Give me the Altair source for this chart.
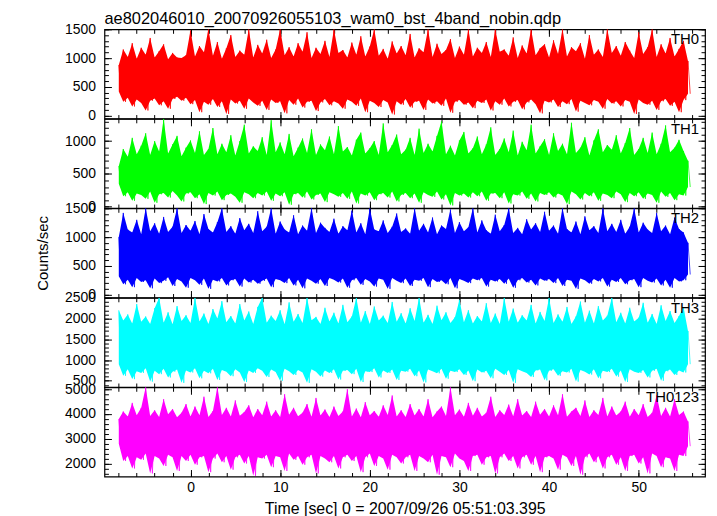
import altair as alt
import pandas as pd

TITLE = "ae802046010_20070926055103_wam0_bst_4band_nobin.qdp"
X_TITLE = "Time [sec] 0 = 2007/09/26 05:51:03.395"
Y_TITLE = "Counts/sec"

T_START = -8.0
T_END = 56.0
X_DOMAIN = [-9.6, 57.4]
X_MAJOR = [0, 10, 20, 30, 40, 50]
X_MINOR = list(range(-8, 57, 2))

NAMES = ["TH0", "TH1", "TH2", "TH3", "TH0123"]
COLORS = ["#ff0000", "#00ff00", "#0000ff", "#00ffff", "#ff00ff"]

Y_DOMAINS = [[-50, 1500], [-20, 1340], [-50, 1500], [350, 2500], [1475, 5080]]
Y_MAJOR = [[0, 500, 1000, 1500], [0, 500, 1000], [0, 500, 1000, 1500],
           [500, 1000, 1500, 2000, 2500], [2000, 3000, 4000, 5000]]
Y_MINOR = [list(range(0, 1501, 100)), list(range(0, 1301, 100)), list(range(0, 1501, 100)),
           list(range(400, 2501, 100)), list(range(1600, 5001, 200))]

th0_hi = [880, 1150, 1020, 1260, 990, 1180, 1060, 1350, 1010, 1120, 1240, 980, 1090, 1010, 1000, 1050,
          1480, 1030, 1210, 1100, 1500, 1040, 1280, 990, 1170, 1400, 1020, 1130, 1060, 1500, 1010, 1230,
          1080, 1320, 1000, 1150, 1500, 1050, 1190, 1030, 1260, 1110, 1450, 1000, 1180, 1070, 1300, 1020,
          1500, 1090, 1140, 1010, 1270, 1060, 1380, 1030, 1200, 1500, 1040, 1160, 990, 1290, 1080, 1210,
          1050, 1420, 1010, 1170, 1100, 1500, 1020, 1250, 1070, 1140, 1330, 1000, 1200, 1060, 1500, 1030,
          1180, 1090, 1280, 1020, 1500, 1110, 1150, 1040, 1360, 1000, 1220, 1080, 1500, 1050, 1170, 1240,
          1010, 1310, 1070, 1500, 1030, 1190, 1120, 1260, 990, 1400, 1060, 1150, 1020, 1500, 1090, 1210,
          1040, 1280, 1130, 1000, 1450, 1070, 1190, 1500, 1020, 1240, 1080, 1350, 1030, 1160, 1300, 950]
th0_lo = [420, 240, 310, 160, 280, 220, 90, 260, 300, 180, 250, 120, 290, 330, 260, 310,
          200, 270, 60, 240, 190, 290, 150, 250, 30, 280, 210, 260, 120, 300, 230, 170,
          260, 100, 280, 220, 250, 40, 270, 190, 300, 140, 240, 260, 80, 230, 290, 180,
          250, 210, 120, 280, 240, 170, 300, 60, 260, 220, 150, 270, 230, 20, 250, 190,
          290, 140, 240, 260, 100, 280, 210, 250, 170, 300, 50, 240, 270, 190, 230, 130,
          260, 220, 280, 90, 250, 190, 300, 160, 240, 270, 110, 230, 280, 200, 40, 260,
          230, 280, 150, 250, 200, 290, 70, 260, 220, 180, 270, 240, 120, 290, 210, 250,
          160, 270, 240, 30, 280, 220, 190, 260, 100, 250, 290, 170, 240, 60, 270, 380]

th1_hi = [620, 880, 760, 1050, 800, 930, 1120, 790, 1000, 840, 1340, 810, 950, 1080, 770, 900,
          1010, 820, 1150, 790, 880, 1200, 800, 960, 830, 1090, 780, 1000, 1250, 810, 920, 850,
          1060, 790, 1320, 830, 980, 800, 1110, 770, 900, 1040, 820, 1180, 790, 950, 860, 1070,
          800, 1230, 840, 910, 780, 1020, 1130, 810, 890, 1000, 790, 1270, 830, 940, 1100, 800,
          870, 1050, 790, 1190, 820, 960, 840, 1080, 1300, 800, 930, 780, 1010, 1140, 810, 890,
          1070, 800, 950, 1210, 790, 880, 1040, 830, 1160, 780, 990, 860, 1250, 810, 920, 1030,
          790, 1120, 850, 960, 800, 1280, 820, 900, 1060, 780, 1010, 1180, 830, 940, 870, 1090,
          810, 970, 1200, 790, 880, 1050, 820, 1130, 800, 960, 1240, 830, 900, 1020, 850, 700]
th1_lo = [350, 160, 220, 90, 200, 180, 120, 230, 60, 190, 210, 140, 240, 170, 80, 200,
          220, 130, 190, 40, 210, 170, 230, 100, 180, 200, 150, 60, 220, 190, 130, 210,
          170, 230, 90, 200, 160, 220, 30, 190, 210, 140, 230, 110, 180, 200, 70, 220,
          190, 150, 210, 120, 230, 50, 200, 170, 220, 100, 190, 210, 140, 230, 80, 180,
          210, 130, 200, 60, 220, 180, 150, 230, 110, 190, 20, 210, 170, 200, 140, 220,
          160, 230, 90, 200, 210, 130, 220, 50, 190, 170, 230, 120, 200, 80, 210, 180,
          220, 140, 200, 170, 40, 230, 190, 110, 210, 160, 220, 90, 200, 180, 130, 230,
          190, 70, 210, 160, 220, 120, 200, 180, 60, 230, 150, 210, 100, 190, 170, 300]

th2_hi = [1000, 1420, 1130, 1080, 1300, 1050, 1500, 1100, 1240, 1060, 1350, 1090, 1180, 1500, 1070, 1210,
          1110, 1280, 1050, 1400, 1140, 1080, 1260, 1500, 1090, 1190, 1060, 1330, 1120, 1230, 1070, 1450,
          1100, 1180, 1500, 1060, 1270, 1130, 1080, 1380, 1050, 1200, 1110, 1500, 1070, 1250, 1160, 1090,
          1320, 1060, 1190, 1120, 1460, 1080, 1240, 1050, 1500, 1130, 1100, 1290, 1070, 1180, 1410, 1090,
          1150, 1060, 1500, 1110, 1230, 1080, 1340, 1050, 1200, 1140, 1480, 1070, 1260, 1100, 1170, 1500,
          1080, 1290, 1120, 1060, 1390, 1100, 1210, 1500, 1070, 1160, 1050, 1310, 1130, 1240, 1090, 1440,
          1110, 1200, 1060, 1500, 1140, 1080, 1270, 1050, 1360, 1120, 1190, 1070, 1500, 1100, 1230, 1090,
          1300, 1060, 1180, 1500, 1080, 1250, 1130, 1070, 1420, 1100, 1200, 1050, 1340, 1140, 1080, 900]
th2_lo = [320, 180, 260, 130, 290, 220, 250, 110, 280, 200, 240, 300, 150, 270, 230, 120,
          290, 250, 170, 280, 100, 260, 230, 290, 160, 250, 270, 140, 280, 210, 260, 190,
          240, 280, 130, 270, 250, 200, 290, 160, 260, 110, 280, 240, 190, 270, 150, 290,
          260, 210, 280, 120, 250, 290, 170, 270, 230, 140, 280, 260, 100, 290, 240, 200,
          280, 150, 260, 240, 290, 130, 270, 220, 250, 180, 290, 110, 270, 240, 200, 280,
          250, 290, 140, 260, 230, 270, 190, 280, 120, 250, 290, 210, 260, 160, 280, 240,
          270, 200, 290, 150, 260, 240, 100, 280, 250, 190, 270, 230, 290, 140, 260, 220,
          290, 180, 250, 270, 130, 290, 240, 210, 280, 160, 260, 120, 290, 230, 250, 350]

th3_hi = [2200, 1950, 2100, 1880, 2350, 1920, 2050, 1870, 2250, 2500, 1900, 2150, 1860, 2300, 1940, 2080,
          1890, 2500, 1930, 2120, 1870, 2230, 2000, 2420, 1910, 2060, 1880, 2350, 1950, 2170, 1870, 2280,
          2500, 1900, 2070, 1940, 2200, 1860, 2390, 1920, 2110, 1890, 2500, 1960, 2040, 1870, 2260, 1930,
          2140, 1880, 2330, 1910, 2050, 2500, 1900, 2180, 1870, 2290, 1950, 2070, 1890, 2400, 1920, 2130,
          1880, 2250, 1940, 2500, 1900, 2090, 1870, 2310, 1960, 2150, 1890, 2030, 2450, 1910, 2200, 1880,
          2060, 1930, 2370, 1890, 2120, 1870, 2500, 1920, 2240, 1900, 2080, 1950, 2330, 1880, 2160, 1940,
          2500, 1890, 2100, 1920, 2280, 1870, 2050, 2410, 1900, 2190, 1880, 2300, 1950, 2070, 2500, 1910,
          2140, 1880, 2260, 1930, 2020, 2380, 1900, 2110, 1870, 2320, 1940, 2180, 1890, 2060, 2270, 1700]
th3_lo = [900, 620, 780, 540, 730, 690, 800, 480, 740, 660, 790, 580, 720, 770, 450, 750,
          700, 800, 560, 740, 680, 790, 520, 760, 720, 610, 780, 700, 470, 750, 690, 800,
          740, 590, 770, 710, 500, 790, 730, 640, 760, 700, 450, 780, 720, 600, 750, 690,
          780, 530, 740, 760, 660, 790, 470, 730, 710, 800, 580, 750, 690, 770, 520, 740,
          720, 790, 610, 750, 460, 770, 730, 680, 790, 550, 740, 710, 780, 640, 750, 490,
          770, 700, 740, 560, 790, 720, 640, 760, 450, 780, 730, 690, 590, 750, 770, 510,
          740, 780, 620, 730, 700, 790, 480, 760, 720, 650, 780, 560, 740, 710, 790, 600,
          750, 470, 780, 720, 690, 760, 580, 740, 790, 500, 730, 770, 640, 750, 700, 900]

th0123_hi = [3800, 4100, 3900, 4450, 3950, 4250, 5080, 3920, 4150, 3880, 4600, 3990, 4200, 3870, 4050, 4400,
             3900, 4300, 3950, 4700, 3880, 4120, 5080, 3960, 4250, 3900, 4550, 3930, 4080, 4350, 3870, 4200,
             3950, 4500, 3900, 4150, 3880, 4800, 3970, 4250, 3910, 4050, 4400, 3890, 4650, 3940, 4180, 3880,
             4300, 3920, 4100, 5000, 3900, 4220, 3870, 4480, 3950, 4120, 3890, 4350, 3960, 4750, 3900, 4150,
             3880, 4400, 3940, 4200, 3900, 4600, 3870, 4100, 4300, 3920, 5080, 3950, 4180, 3890, 4450, 3930,
             4250, 3900, 4050, 4700, 3880, 4150, 3960, 4380, 3910, 4600, 3940, 4120, 3880, 4500, 3970, 4200,
             3900, 4350, 3950, 4800, 3890, 4100, 4250, 3920, 4550, 3880, 4150, 3960, 4650, 3900, 4300, 3940,
             4100, 4500, 3890, 4200, 3950, 4400, 3880, 4050, 4750, 3920, 4250, 3900, 4600, 3960, 4100, 3700]
th0123_lo = [2800, 2100, 2300, 1800, 2250, 2150, 2400, 1600, 2300, 2200, 1900, 2350, 2250, 1700, 2300, 2100,
             2350, 1950, 2250, 2300, 1650, 2200, 2400, 2050, 2300, 1750, 2250, 2350, 2000, 2300, 1500, 2250,
             2200, 2350, 1850, 2300, 2250, 1700, 2400, 2150, 2300, 1950, 2250, 2350, 1600, 2300, 2200, 2050,
             2300, 1800, 2250, 2350, 2100, 2300, 1650, 2250, 2400, 1900, 2300, 2200, 1750, 2350, 2250, 2000,
             2250, 2350, 1700, 2300, 2200, 2050, 2350, 1550, 2300, 2250, 1850, 2400, 2200, 2100, 1700, 2300,
             2350, 1950, 2250, 2300, 1600, 2250, 2400, 2100, 2300, 1800, 2250, 2350, 1950, 2300, 1650, 2250,
             2300, 2200, 1750, 2350, 2250, 1900, 2300, 1550, 2250, 2400, 2050, 2300, 1800, 2250, 2350, 1950,
             2250, 1700, 2300, 2350, 2000, 2250, 1600, 2400, 2300, 1850, 2250, 2200, 1700, 2350, 2300, 2700]

HI = [th0_hi, th1_hi, th2_hi, th3_hi, th0123_hi]
LO = [th0_lo, th1_lo, th2_lo, th3_lo, th0123_lo]

FONT = "Liberation Sans"
W = 604
H = 89.7
MAJ = 7
MIN = 4


def ax(orient, values, size, labels=False, title=None, **kw):
    return alt.Axis(orient=orient, values=values, tickSize=size, offset=-size,
                    domain=False, grid=False, labels=labels, title=title,
                    tickColor="black", tickWidth=1, format="d", **kw)


def panel(i):
    n = min(len(HI[i]), len(LO[i]))
    step = (T_END - T_START) / n
    tk = [T_START + k * step for k in range(n)]
    env = pd.DataFrame({"t": tk, "hi": HI[i][:n], "lo": LO[i][:n]})
    ts, vs = [], []
    for k in range(n):
        ts += [tk[k], tk[k] + step / 2]
        vs += [HI[i][k], LO[i][k]]
    zz = pd.DataFrame({"t": ts, "v": vs})
    xs = alt.Scale(domain=X_DOMAIN, nice=False, zero=False)
    ys = alt.Scale(domain=Y_DOMAINS[i], nice=False, zero=False)
    bottom = i == len(NAMES) - 1
    if bottom:
        xa = ax("bottom", X_MAJOR, MAJ, labels=True, title=X_TITLE,
                labelPadding=4, titlePadding=6, labelFlush=False, titleFontSize=16)
    else:
        xa = ax("bottom", X_MAJOR, MAJ)
    if i == 2:
        ya = ax("left", Y_MAJOR[i], MAJ, labels=True, title=Y_TITLE,
                labelPadding=9, titlePadding=14)
    else:
        ya = ax("left", Y_MAJOR[i], MAJ, labels=True, labelPadding=9)
    band = alt.Chart(env).mark_area(color=COLORS[i], clip=True, interpolate="linear").encode(
        x=alt.X("t:Q", scale=xs, axis=xa),
        y=alt.Y("hi:Q", scale=ys, axis=ya),
        y2="lo:Q",
    )
    zig = alt.Chart(zz).mark_line(color=COLORS[i], clip=True, strokeWidth=1,
                                  opacity=0.75, interpolate="linear").encode(
        x=alt.X("t:Q", scale=xs, axis=None),
        y=alt.Y("v:Q", scale=ys, axis=None),
    )

    def ghost(xaxis, yaxis):
        return alt.Chart(env).mark_point(opacity=0).encode(
            x=alt.X("t:Q", scale=xs, axis=xaxis),
            y=alt.Y("hi:Q", scale=ys, axis=yaxis),
        )

    g1 = ghost(ax("top", X_MAJOR, MAJ), ax("right", Y_MAJOR[i], MAJ))
    g2 = ghost(ax("bottom", X_MINOR, MIN), ax("left", Y_MINOR[i], MIN))
    g3 = ghost(ax("top", X_MINOR, MIN), ax("right", Y_MINOR[i], MIN))
    label = alt.Chart(pd.DataFrame({"name": [NAMES[i]]})).mark_text(
        align="right", baseline="top", fontSize=15, font=FONT, color="black"
    ).encode(x=alt.value(W - 6), y=alt.value(3), text="name:N")
    layered = (
        alt.layer(band, zig, g1, g2, g3, label)
        .resolve_scale(x="independent", y="independent")
        .resolve_axis(x="independent", y="independent")
        .properties(width=W, height=H)
    )
    if i == 0:
        layered = layered.properties(
            title=alt.TitleParams(TITLE, anchor="start", frame="group", fontSize=16.5,
                                  font=FONT, fontWeight="normal", color="black", offset=-5)
        )
    return layered


chart = (
    alt.vconcat(*[panel(i) for i in range(len(NAMES))], spacing=0, bounds="flush")
    .properties(padding={"left": 27, "top": 0, "right": 2, "bottom": 0})
    .configure_view(stroke="black", strokeWidth=1.2)
    .configure_axis(labelFont=FONT, titleFont=FONT, labelFontSize=14, titleFontSize=15,
                    titleFontWeight="normal", labelColor="black", titleColor="black")
)

chart.save("out.html", embed_options={"renderer": "svg", "actions": False})
